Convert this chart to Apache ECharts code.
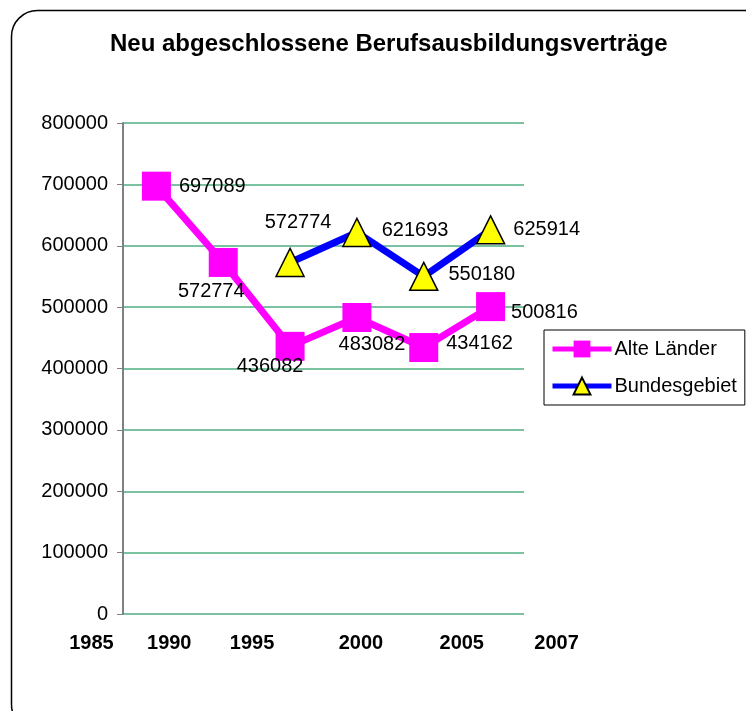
<!DOCTYPE html>
<html>
<head>
<meta charset="utf-8">
<script src="https://cdn.jsdelivr.net/npm/echarts@6/dist/echarts.min.js"></script>
<style>
    html, body { margin: 0; padding: 0; background: #fff; }
    #berufsausbildung_chart { width: 746px; height: 711px; }
</style>
</head>
<body>
<div id="berufsausbildung_chart"></div>
<script>
// Daten
const years = ['1985', '1990', '1995', '2000', '2005', '2007'];
const alteLaender = [697089, 572774, 436082, 483082, 434162, 500816];
const bundesgebiet = [null, null, 572774, 621693, 550180, 625914];

// label placement (like in the excel original)
const alteLabelPos = [['right', [3, 0]], ['bottom', [-12, 0]], ['bottom', [-20, -9]], ['bottom', [15, -3]], ['right', [3, -4]], ['right', [1, 6]]];
const bundLabelPos = [null, null, ['top', [8, -10]], ['right', [5, -2]], ['right', [5, -2]], ['right', [3, 0]]];
const yearShift = [-65, -54, -38, 4, 38, 66];

const font = '"Liberation Sans", Arial, sans-serif';

function withLabels(values, pos) {
    return values.map((v, i) => {
        if (v === null) return null;
        return {
            value: v,
            label: {position: pos[i][0], offset: pos[i][1]}
        };
    });
}

const yearRich = {};
yearShift.forEach((d, i) => {
    yearRich['s' + i] = {
        fontFamily: font,
        fontSize: 20,
        fontWeight: 'bold',
        color: '#000',
        padding: d > 0 ? [0, 0, 0, 2 * d] : [0, -2 * d, 0, 0]
    };
});

const chart = echarts.init(document.getElementById('berufsausbildung_chart'));
const dataLabel = {
    show: true,
    distance: 5,
    fontFamily: font,
    fontSize: 20,
    color: '#000'
};
const option = {
    backgroundColor: '#fff',
    animation: false,
    graphic: [{
        type: 'rect',
        shape: {x: 11.5, y: 10.5, width: 760, height: 720, r: 26},
        style: {fill: 'none', stroke: '#000', lineWidth: 1.5},
        silent: true,
        z: -1
    }],
    title: {
        text: 'Neu abgeschlossene Berufsausbildungsverträge',
        left: 110,
        top: 32,
        padding: 0,
        textStyle: {fontFamily: font, fontSize: 24, fontWeight: 'bold', color: '#000'}
    },
    legend: {
        orient: 'vertical',
        left: 544,
        top: 330,
        padding: [9, 8, 9, 6],
        itemWidth: 59,
        itemHeight: 21,
        itemGap: 17,
        borderColor: '#000',
        borderWidth: 1,
        backgroundColor: '#fff',
        lineStyle: {width: 5},
        textStyle: {fontFamily: font, fontSize: 20, color: '#000', padding: [0, 0, 0, -2]},
        data: ['Alte Länder', 'Bundesgebiet']
    },
    grid: {left: 123, right: 222, top: 123, bottom: 97},
    xAxis: {
        type: 'category',
        data: years,
        boundaryGap: true,
        axisLine: {show: false},
        axisTick: {show: false},
        axisLabel: {
            interval: 0,
            margin: 19,
            formatter: (value, index) => '{s' + index + '|' + value + '}',
            rich: yearRich
        }
    },
    yAxis: {
        type: 'value',
        min: 0,
        max: 800000,
        interval: 100000,
        axisLine: {show: true, lineStyle: {color: '#808080', width: 2}},
        axisTick: {show: true, length: 6, lineStyle: {color: '#808080', width: 1}},
        axisLabel: {
            margin: 15,
            fontFamily: font,
            fontSize: 20,
            color: '#000',
            formatter: v => String(v)
        },
        splitLine: {lineStyle: {color: '#4fae80', width: 1.5}}
    },
    series: [
        {
            name: 'Alte Länder',
            type: 'line',
            data: withLabels(alteLaender, alteLabelPos),
            symbol: 'rect',
            symbolSize: 29,
            lineStyle: {color: '#ff00ff', width: 7},
            itemStyle: {color: '#ff00ff'},
            label: dataLabel,
            z: 3
        },
        {
            name: 'Bundesgebiet',
            type: 'line',
            data: withLabels(bundesgebiet, bundLabelPos),
            symbol: 'triangle',
            symbolSize: 28,
            lineStyle: {color: '#0000ff', width: 7},
            itemStyle: {color: '#ffff00', borderColor: '#000', borderWidth: 1.5},
            label: dataLabel,
            z: 2
        }
    ]
};
chart.setOption(option);
window.addEventListener('resize', function () {
    chart.resize();
});
</script>
</body>
</html>
